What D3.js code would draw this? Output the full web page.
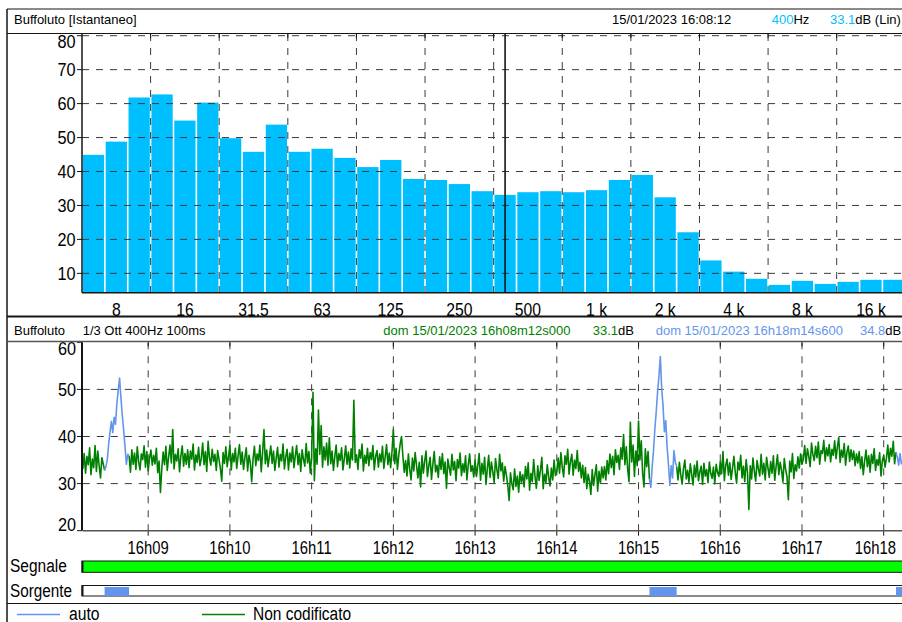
<!DOCTYPE html>
<html>
<head>
<meta charset="utf-8">
<script src="https://cdn.jsdelivr.net/npm/d3@7"></script>
<style>
  html, body { margin: 0; padding: 0; background: #fff; overflow: hidden; }
  svg { display: block; font-family: "Liberation Sans", Arial, sans-serif; }
</style>
</head>
<body>
<svg id="chart" width="902" height="622"></svg>
<script>
// ---------- Spectrum (1/3 octave, instantaneous) ----------
const bandNames = ["6.3","8","10","12.5","16","20","25","31.5","40","50","63","80","100","125","160","200",
  "250","315","400","500","630","800","1k","1.25k","1.6k","2k","2.5k","3.15k","4k","5k","6.3k","8k",
  "10k","12.5k","16k","20k"];
const bandLevels = [44.9,48.8,61.8,62.7,55.0,60.3,49.8,45.8,53.8,45.8,46.7,44.0,41.3,43.4,37.8,37.5,
  36.3,34.2,33.1,33.9,34.2,33.9,34.5,37.5,39.0,32.4,22.1,13.8,10.5,8.4,6.6,7.8,
  6.9,7.5,8.1,8.1];
const freqTickBands = ["8","16","31.5","63","125","250","500","1k","2k","4k","8k","16k"];
const freqTickLabels = ["8","16","31.5","63","125","250","500","1 k","2 k","4 k","8 k","16 k"];
const spectrumTicks = [10,20,30,40,50,60,70,80];
const cursorBand = "400";

// ---------- Time history of the 400 Hz band, one value per second ----------
const startTime = new Date(2023, 0, 15, 16, 8, 12, 0);
const endTime = new Date(2023, 0, 15, 16, 18, 14, 600);
const stepMs = 1000;
const levels = [
  33.1,36.4,32.2,35.8,34.0,37.6,31.9,35.2,33.4,38.1,32.6,36.9,33.8,31.2,35.5,34.2,32.8,
  33.6,35.2,38.4,41.0,43.2,40.8,44.1,42.6,46.9,49.8,52.4,48.2,44.5,41.3,37.8,34.1,36.2,
  35.9,32.4,37.2,34.1,36.5,33.0,37.8,34.6,32.9,36.3,35.1,38.0,33.5,36.8,32.7,35.4,37.1,33.9,36.0,34.2,37.5,32.3,34.8,28.1,
  33.2,36.7,34.0,37.9,32.8,35.6,38.2,34.4,41.5,33.1,36.2,34.8,37.4,32.5,35.9,38.0,33.7,36.4,34.1,37.2,
  33.4,36.9,35.2,38.4,32.9,36.1,34.5,37.7,33.8,35.3,38.6,34.0,36.8,32.6,39.0,35.5,33.9,37.3,34.7,36.2,
  32.8,37.0,35.1,33.3,30.5,36.6,34.3,37.8,33.6,35.8,38.1,32.9,36.4,34.6,37.5,33.2,35.9,38.3,34.1,36.7,
  33.0,35.5,37.6,32.7,36.0,34.4,30.4,35.2,37.9,33.8,36.3,34.9,38.2,32.5,36.6,41.5,34.2,37.1,33.6,35.8,
  38.0,34.3,36.9,32.8,35.4,37.7,33.5,36.2,34.8,38.4,33.1,35.7,37.3,32.9,36.5,34.6,37.8,33.4,35.9,38.1,
  34.0,36.4,32.6,37.2,35.1,33.7,38.5,34.4,36.8,32.2,35.6,
  49.4,30.6,37.4,34.1,45.6,36.2,42.3,33.5,37.8,35.0,38.6,33.9,39.7,
  34.2,36.9,32.8,35.7,38.2,33.6,36.4,34.9,37.6,32.9,35.3,38.0,34.1,36.7,33.3,37.4,35.0,47.7,34.5,36.1,
  33.0,37.2,35.4,38.4,32.7,36.0,34.3,37.5,33.8,36.6,35.1,38.1,32.9,35.8,37.0,33.5,36.3,34.6,37.9,33.2,
  35.7,38.3,34.0,36.5,33.4,
  36.8,41.5,34.2,37.5,33.0,36.1,38.4,40.0,
  35.8,32.4,34.9,31.6,36.3,33.1,30.8,35.4,32.7,36.6,33.9,31.2,34.5,29.3,35.9,32.2,34.8,36.9,31.5,33.7,
  35.6,30.9,34.1,36.8,32.5,33.9,31.3,35.7,33.0,36.4,32.1,34.6,29.0,35.2,33.4,31.8,36.2,32.9,34.7,30.6,
  35.1,33.3,36.5,31.7,34.2,32.4,35.9,30.8,34.0,36.3,32.6,33.8,31.4,
  35.0,31.5,33.8,36.4,30.7,34.3,32.0,35.6,29.8,33.2,36.0,31.3,34.6,32.5,30.2,35.3,33.0,31.1,36.2,32.7,34.4,30.5,33.6,31.8,
  29.6,26.4,32.3,30.0,28.7,33.1,29.4,31.6,28.2,32.5,30.3,31.9,
  29.3,33.6,31.0,34.4,28.6,32.2,30.4,35.1,31.5,29.0,33.8,30.7,32.9,35.6,28.9,32.0,30.2,34.0,31.4,29.5,33.3,30.8,35.0,31.7,32.6,
  35.4,32.2,36.6,33.5,31.4,35.9,34.1,37.3,32.0,34.7,36.2,31.8,35.0,33.2,37.0,32.6,34.5,31.2,33.9,
  30.2,33.4,28.9,32.0,30.5,27.7,33.0,29.6,31.8,34.0,28.4,32.6,30.1,33.5,31.2,
  33.6,30.8,34.9,32.1,36.3,33.4,35.8,31.9,37.2,34.5,36.0,33.0,37.6,
  35.2,40.4,34.0,37.8,33.1,30.4,43.0,34.6,38.2,31.5,36.9,33.8,43.3,35.0,39.1,32.2,29.3,37.4,33.6,36.8,31.0,
  29.2,33.5,37.0,41.6,45.3,49.5,52.8,57.0,50.2,46.5,41.0,43.4,37.6,34.0,29.6,33.8,31.2,37.0,34.6,
  33.6,30.8,34.5,31.9,29.9,33.2,35.0,31.0,32.8,30.3,34.2,32.0,29.7,33.9,31.4,34.8,30.6,32.5,33.7,29.8,
  34.3,31.6,33.0,30.2,34.6,32.2,31.1,33.5,30.0,34.1,32.4,
  31.5,34.7,32.1,36.8,30.6,33.9,35.2,31.8,34.4,30.9,33.3,35.8,32.4,30.1,34.6,32.9,36.0,31.2,33.7,30.4,
  35.1,32.3,24.5,33.8,31.0,35.4,32.6,30.5,34.9,33.1,31.6,36.2,32.0,34.3,30.8,35.6,33.4,31.3,34.7,32.2,
  35.9,30.7,33.6,36.1,31.9,34.5,32.8,30.3,35.3,33.0,31.4,26.6,34.8,32.5,36.4,31.1,34.0,32.7,35.7,33.3,
  36.3,34.1,
  35.2,38.1,34.3,37.4,35.8,33.6,38.6,36.2,34.9,37.9,35.5,38.8,34.1,37.0,36.4,39.2,34.8,37.6,35.9,38.3,
  34.6,37.3,36.0,39.1,35.3,37.8,39.8,34.5,37.1,35.6,38.5,33.9,36.7,38.0,34.7,37.2,35.1,36.9,33.8,36.3,
  34.4,
  36.8,33.2,35.7,31.9,34.8,37.1,33.6,35.9,32.4,36.2,34.3,37.4,32.8,35.1,33.9,36.6,31.6,34.9,36.0,33.5,
  35.4,38.2,34.6,37.5,35.8,39.0,34.2,36.7,
  35.6,33.9,36.4,34.2,34.8
];
// Sample index ranges (inclusive) classified as "auto" source
const autoSpans = [[16, 34], [416, 436], [597, 602]];
const timeTicksLevels = [20, 30, 40, 50, 60];

// ---------- Drawing ----------
const svg = d3.select("#chart");
const W = 902;
const INK = "#151515";
const CYAN = "#00BFFF";
const GREEN = "#008000";
const BLUE = "#6495ED";
const GRID = "#3a3a3a";

function hline(y, x1, x2, color, w) {
  svg.append("line").attr("x1", x1).attr("x2", x2).attr("y1", y).attr("y2", y)
    .attr("stroke", color).attr("stroke-width", w);
}
function vline(x, y1, y2, color, w) {
  svg.append("line").attr("x1", x).attr("x2", x).attr("y1", y1).attr("y2", y2)
    .attr("stroke", color).attr("stroke-width", w);
}
// Large labels use a narrow face: measure, then squeeze with textLength.
function label(x, y, str, anchor, size, ratio, fill, maxRight) {
  const t = svg.append("text").attr("x", 0).attr("y", y)
    .attr("font-size", size).attr("fill", fill || "#000").text(str);
  const w = t.node().getComputedTextLength() * ratio;
  t.attr("textLength", w).attr("lengthAdjust", "spacingAndGlyphs");
  let x0 = anchor === "end" ? x - w : anchor === "middle" ? x - w / 2 : x;
  if (maxRight !== undefined) x0 = Math.min(x0, maxRight - w);
  t.attr("x", x0);
  return t;
}
function header(x, y, parts) {
  const t = svg.append("text").attr("x", x).attr("y", y).attr("font-size", 13);
  parts.forEach(([s, c]) => t.append("tspan").attr("fill", c).text(s));
}

// ===== Upper panel: spectrum =====
const sp = { left: 82, right: 905.3, top: 34, bottom: 292.7 };
const xBand = d3.scaleBand().domain(bandNames).range([sp.left, sp.right])
  .paddingInner(0.07).paddingOuter(0.035);
const ySp = d3.scaleLinear().domain([4.3, 80.5]).range([sp.bottom, sp.top]);

svg.append("g").selectAll("rect").data(bandLevels).join("rect")
  .attr("x", (d, i) => xBand(bandNames[i]))
  .attr("y", d => ySp(d))
  .attr("width", xBand.bandwidth())
  .attr("height", d => sp.bottom - ySp(d))
  .attr("fill", CYAN);

// dashed grid
const gridSp = svg.append("g").attr("stroke", GRID).attr("stroke-width", 1).attr("stroke-dasharray", "7,7");
spectrumTicks.forEach(v => {
  gridSp.append("line").attr("x1", sp.left).attr("x2", W).attr("y1", ySp(v)).attr("y2", ySp(v));
});
const halfGap = (xBand.step() - xBand.bandwidth()) / 2;
const octaveEdges = d3.range(3, bandNames.length, 3).map(i => xBand(bandNames[i]) - halfGap);
octaveEdges.forEach(x => {
  gridSp.append("line").attr("x1", x).attr("x2", x).attr("y1", sp.top).attr("y2", sp.bottom);
  vline(x, sp.top, sp.top + 4, INK, 1);
});

// axes
vline(sp.left, sp.top, sp.bottom, INK, 1.5);
hline(sp.bottom, sp.left, W, INK, 1.5);
spectrumTicks.forEach(v => {
  hline(ySp(v), sp.left - 5, sp.left, INK, 1);
  label(75.5, Math.max(ySp(v), 41.7) + 6.6, String(v), "end", 18.5, 0.88);
});
freqTickBands.forEach((b, i) => {
  label(xBand(b) + xBand.bandwidth() / 2, 315.5, freqTickLabels[i], "middle", 18.5, 0.85);
});

// cursor on the selected band
const cx = xBand(cursorBand) + xBand.bandwidth() / 2;
vline(cx, sp.top, sp.bottom, INK, 1.6);

// ===== Lower panel: time history =====
const th = { left: 82.8, right: 903.6, top: 342.3, bottom: 530.7 };
const xT = d3.scaleTime().domain([startTime, endTime]).range([th.left, th.right]);
const yT = d3.scaleLinear().domain([20, 60]).range([th.bottom, th.top]);
const timeOf = i => new Date(+startTime + i * stepMs);

const gridT = svg.append("g").attr("stroke", GRID).attr("stroke-width", 1).attr("stroke-dasharray", "7,7");
[30, 40, 50].forEach(v => {
  gridT.append("line").attr("x1", th.left).attr("x2", W).attr("y1", yT(v)).attr("y2", yT(v));
});
const minuteTicks = xT.ticks(d3.timeMinute.every(1));
minuteTicks.forEach(t => {
  const x = xT(t);
  gridT.append("line").attr("x1", x).attr("x2", x).attr("y1", th.top).attr("y2", th.bottom);
  vline(x, th.top, th.top + 4, INK, 1);
  vline(x, th.bottom, th.bottom + 5, INK, 1);
  label(x, 554, d3.timeFormat("%Hh%M")(t), "middle", 18.5, 0.8, "#000", 896);
});

svg.append("clipPath").attr("id", "thClip").append("rect")
  .attr("x", th.left).attr("y", th.top - 20).attr("width", W - th.left).attr("height", th.bottom - th.top + 20);

const inAuto = i => autoSpans.some(([a, b]) => i >= a && i <= b);
const inAutoStrict = i => autoSpans.some(([a, b]) => i > a && i < b);
const lineGreen = d3.line().defined((d, i) => !inAutoStrict(i))
  .x((d, i) => xT(timeOf(i))).y(d => yT(d));
const lineBlue = d3.line().defined((d, i) => inAuto(i))
  .x((d, i) => xT(timeOf(i))).y(d => yT(d));
const series = svg.append("g").attr("clip-path", "url(#thClip)");
series.append("path").attr("d", lineGreen(levels)).attr("fill", "none")
  .attr("stroke", GREEN).attr("stroke-width", 1.6).attr("stroke-linejoin", "round");
series.append("path").attr("d", lineBlue(levels)).attr("fill", "none")
  .attr("stroke", BLUE).attr("stroke-width", 1.6).attr("stroke-linejoin", "round");

vline(82, th.top, th.bottom, INK, 2);
hline(th.bottom, th.left, W, "#555", 1.5);
timeTicksLevels.forEach(v => {
  hline(yT(v), 77, 82, INK, 1);
  label(76, Math.min(Math.max(yT(v), 348), 524.5) + 6.6, String(v), "end", 18.5, 0.88);
});

// Signal / source strips
label(10, 571.7, "Segnale", "start", 18, 0.86);
svg.append("rect").attr("x", 82).attr("y", 561).attr("width", W - 82 + 5).attr("height", 11.3)
  .attr("fill", "#00FF00").attr("stroke", INK).attr("stroke-width", 1);
vline(82.5, 561, 572.3, INK, 2);

label(10, 596.5, "Sorgente", "start", 18, 0.85);
svg.append("rect").attr("x", 82).attr("y", 585.5).attr("width", W - 82 + 5).attr("height", 10.5)
  .attr("fill", "#fff").attr("stroke", INK).attr("stroke-width", 1);
vline(82.5, 585.5, 596, INK, 2);
autoSpans.forEach(([a, b]) => {
  svg.append("rect").attr("x", xT(timeOf(a))).attr("y", 587)
    .attr("width", xT(timeOf(b)) - xT(timeOf(a))).attr("height", 9).attr("fill", BLUE);
});

// Legend
hline(614.5, 17, 60, BLUE, 1.5);
label(69, 619.5, "auto", "start", 18, 0.87);
hline(614.5, 202, 245, GREEN, 1.5);
label(253, 619.5, "Non codificato", "start", 18, 0.86);

// ===== Frame and headers =====
hline(9, 7, W, INK, 1);
vline(7, 9, 622, INK, 1.5);
hline(33.5, 7, W, INK, 1);
hline(316.5, 7, W, INK, 2);
hline(341.5, 7, W, "#555", 1.5);
hline(603.5, 7, W, INK, 1);

header(14, 23.7, [["Buffoluto [Istantaneo]", "#000"]]);
header(612, 23.7, [["15/01/2023 16:08:12", "#000"]]);
header(771.7, 23.7, [["400", CYAN], ["Hz", "#000"]]);
header(830, 23.7, [["33.1", CYAN], ["dB (Lin)", "#000"]]);

header(14, 334.7, [["Buffoluto", "#000"]]);
header(82.7, 334.7, [["1/3 Ott 400Hz 100ms", "#000"]]);
header(383.3, 334.7, [["dom 15/01/2023 16h08m12s000", GREEN]]);
header(592.7, 334.7, [[String(levels[0]), GREEN], ["dB", "#000"]]);
header(655.7, 334.7, [["dom 15/01/2023 16h18m14s600", BLUE]]);
header(860, 334.7, [[String(levels[levels.length - 1]), BLUE], ["dB", "#000"]]);
</script>
</body>
</html>
